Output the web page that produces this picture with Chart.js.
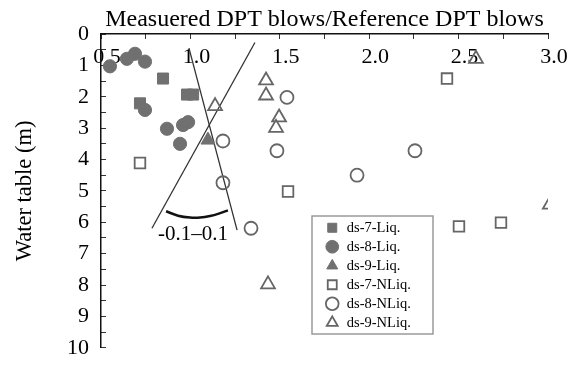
<!DOCTYPE html>
<html>
<head>
<meta charset="utf-8">
<script src="https://cdn.jsdelivr.net/npm/chart.js@4/dist/chart.umd.min.js"></script>
<title>DPT blows ratio vs water table</title>
<style>
  html, body { margin: 0; padding: 0; background: #fff; }
  #wrap { width: 588px; height: 378px; }
</style>
</head>
<body>
<div id="wrap"><canvas id="myChart"></canvas></div>
<script>
// tick labels
var xTickLabels = ['0.5', '1.0', '1.5', '2.0', '2.5', '3.0'];
var yTickLabels = ['0', '1', '2', '3', '4', '5', '6', '7', '8', '9', '10'];

// ds-7 liquefied (filled squares)
var ds7LiqX = [0.847, 0.981, 1.015, 0.718];
var ds7LiqY = [1.42, 1.93, 1.93, 2.21];
// ds-8 liquefied (filled circles)
var ds8LiqX = [0.550, 0.645, 0.690, 0.746, 0.746, 0.869, 0.959, 0.987, 0.942];
var ds8LiqY = [1.03, 0.79, 0.63, 0.88, 2.42, 3.02, 2.90, 2.81, 3.50];
// ds-9 liquefied (filled triangle)
var ds9LiqX = [1.098];
var ds9LiqY = [3.38];
// ds-7 not liquefied (open squares)
var ds7NLiqX = [0.718, 1.546, 2.435, 2.502, 2.737];
var ds7NLiqY = [4.11, 5.02, 1.42, 6.13, 6.01];
// ds-8 not liquefied (open circles)
var ds8NLiqX = [1.182, 1.540, 1.484, 1.182, 1.339, 2.256, 1.932];
var ds8NLiqY = [3.41, 2.02, 3.72, 4.74, 6.19, 3.72, 4.50];
// ds-9 not liquefied (open triangles)
var ds9NLiqX = [1.138, 1.423, 1.423, 1.496, 1.479, 2.597, 1.434, 3.01];
var ds9NLiqY = [2.30, 1.48, 1.96, 2.66, 2.99, 0.79, 7.98, 5.44];

// the two guide lines and the arc between them
var lineAX = [0.992, 1.261];
var lineAY = [0.45, 6.25];
var lineBX = [1.361, 0.785];
var lineBY = [0.27, 6.19];
var arcX = [0.864, 0.931, 0.998, 1.054, 1.110, 1.166, 1.210];
var arcY = [5.65, 5.79, 5.85, 5.85, 5.80, 5.71, 5.62];
var arcText = '-0.1\u20130.1';
var arcTextX = 1.015;
var arcTextY = 6.56;

function pts(xs, ys) {
    var out = [];
    for (var i = 0; i < xs.length; i++) {
        out.push({ x: xs[i], y: ys[i] });
    }
    return out;
}

var grey = '#707070';
var edge = '#666666';
var serif = '"Liberation Serif", "Times New Roman", serif';

Chart.defaults.font.family = serif;
Chart.defaults.color = '#000';

function marker(label, xs, ys, style, filled, r) {
    return {
        label: label,
        data: pts(xs, ys),
        pointStyle: style,
        pointRadius: r,
        pointHoverRadius: r,
        pointBackgroundColor: filled ? grey : 'rgba(0,0,0,0)',
        pointBorderColor: filled ? grey : edge,
        pointBorderWidth: filled ? 1 : 1.8,
        backgroundColor: filled ? grey : 'rgba(0,0,0,0)',
        borderColor: filled ? grey : edge,
        showLine: false,
        clip: 0
    };
}

function guide(xs, ys, width, colour, tension) {
    return {
        label: '',
        data: pts(xs, ys),
        showLine: true,
        pointRadius: 0,
        borderColor: colour,
        borderWidth: width,
        tension: tension,
        fill: false
    };
}

var datasets = [
    marker('ds-7-Liq.', ds7LiqX, ds7LiqY, 'rect', true, 7.8),
    marker('ds-8-Liq.', ds8LiqX, ds8LiqY, 'circle', true, 6.6),
    marker('ds-9-Liq.', ds9LiqX, ds9LiqY, 'triangle', true, 8),
    marker('ds-7-NLiq.', ds7NLiqX, ds7NLiqY, 'rect', false, 7.5),
    marker('ds-8-NLiq.', ds8NLiqX, ds8NLiqY, 'circle', false, 6.5),
    marker('ds-9-NLiq.', ds9NLiqX, ds9NLiqY, 'triangle', false, 8),
    guide(lineAX, lineAY, 1.3, '#333', 0),
    guide(lineBX, lineBY, 1.3, '#333', 0),
    guide(arcX, arcY, 2.5, '#111', 0.4)
];

var legendBox = { x: 312, y: 216, w: 121, h: 118 };

// moves the legend into the plot and draws its frame and the arc label
var extras = {
    id: 'extras',
    afterLayout: function(chart) {
        var lg = chart.legend;
        lg.left = legendBox.x + 8.5;
        lg.top = legendBox.y;
        lg.right = legendBox.x + legendBox.w;
        lg.bottom = chart.chartArea.bottom;
        lg.width = lg.right - lg.left;
        lg.height = lg.bottom - lg.top;
    },
    afterDraw: function(chart) {
        var ctx = chart.ctx;
        var xs = chart.scales.x, ys = chart.scales.y;
        ctx.save();
        ctx.strokeStyle = '#9a9a9a';
        ctx.lineWidth = 1.5;
        ctx.strokeRect(legendBox.x, legendBox.y, legendBox.w, legendBox.h);
        ctx.fillStyle = '#000';
        ctx.font = '21px ' + serif;
        ctx.textAlign = 'center';
        ctx.textBaseline = 'alphabetic';
        ctx.fillText(arcText, xs.getPixelForValue(arcTextX), ys.getPixelForValue(arcTextY));
        ctx.restore();
    }
};

var config = {
    type: 'scatter',
    data: { datasets: datasets },
    options: {
        responsive: true,
        maintainAspectRatio: false,
        animation: false,
        layout: { padding: { left: 0, top: 0, right: 40, bottom: 13 } },
        plugins: {
            tooltip: { enabled: false },
            legend: {
                position: 'chartArea',
                align: 'start',
                labels: {
                    usePointStyle: true,
                    boxWidth: 15,
                    boxHeight: 9,
                    padding: 4.5,
                    color: '#000',
                    font: { size: 14.5, family: serif },
                    filter: function(item) { return item.text !== ''; }
                }
            }
        },
        scales: {
            x: {
                type: 'linear',
                position: 'top',
                min: 0.5,
                max: 3.0,
                afterFit: function(scale) { scale.height = 34; },
                border: { display: true, color: '#111', width: 1.5 },
                grid: { drawOnChartArea: false, drawTicks: true, tickLength: -5, color: '#333', lineWidth: 1 },
                ticks: {
                    stepSize: 0.25,
                    autoSkip: false,
                    maxRotation: 0,
                    mirror: true,
                    padding: 10.5,
                    labelOffset: 6,
                    color: '#000',
                    font: { size: 22 },
                    callback: function(v) {
                        var s = v.toFixed(1);
                        return (Math.abs(v * 2 - Math.round(v * 2)) < 1e-6 && xTickLabels.indexOf(s) >= 0) ? s : '';
                    }
                },
                title: {
                    display: true,
                    text: 'Measuered DPT blows/Reference DPT blows',
                    color: '#000',
                    font: { size: 24 },
                    padding: { top: 5, bottom: 0 }
                }
            },
            y: {
                type: 'linear',
                position: 'left',
                reverse: true,
                min: 0,
                max: 10,
                afterFit: function(scale) { scale.width = 101; },
                border: { display: true, color: '#111', width: 1.5 },
                grid: { drawOnChartArea: false, drawTicks: true, tickLength: -5, color: '#333', lineWidth: 1 },
                ticks: {
                    stepSize: 0.5,
                    autoSkip: false,
                    padding: 17,
                    color: '#000',
                    font: { size: 22 },
                    callback: function(v) {
                        var s = String(v);
                        return yTickLabels.indexOf(s) >= 0 ? s : '';
                    }
                },
                title: {
                    display: true,
                    text: 'Water table (m)',
                    color: '#000',
                    font: { size: 22.5 },
                    padding: { top: 12, bottom: 0 }
                }
            }
        }
    },
    plugins: [extras]
};

var myChart = new Chart(document.getElementById('myChart'), config);
</script>
</body>
</html>
